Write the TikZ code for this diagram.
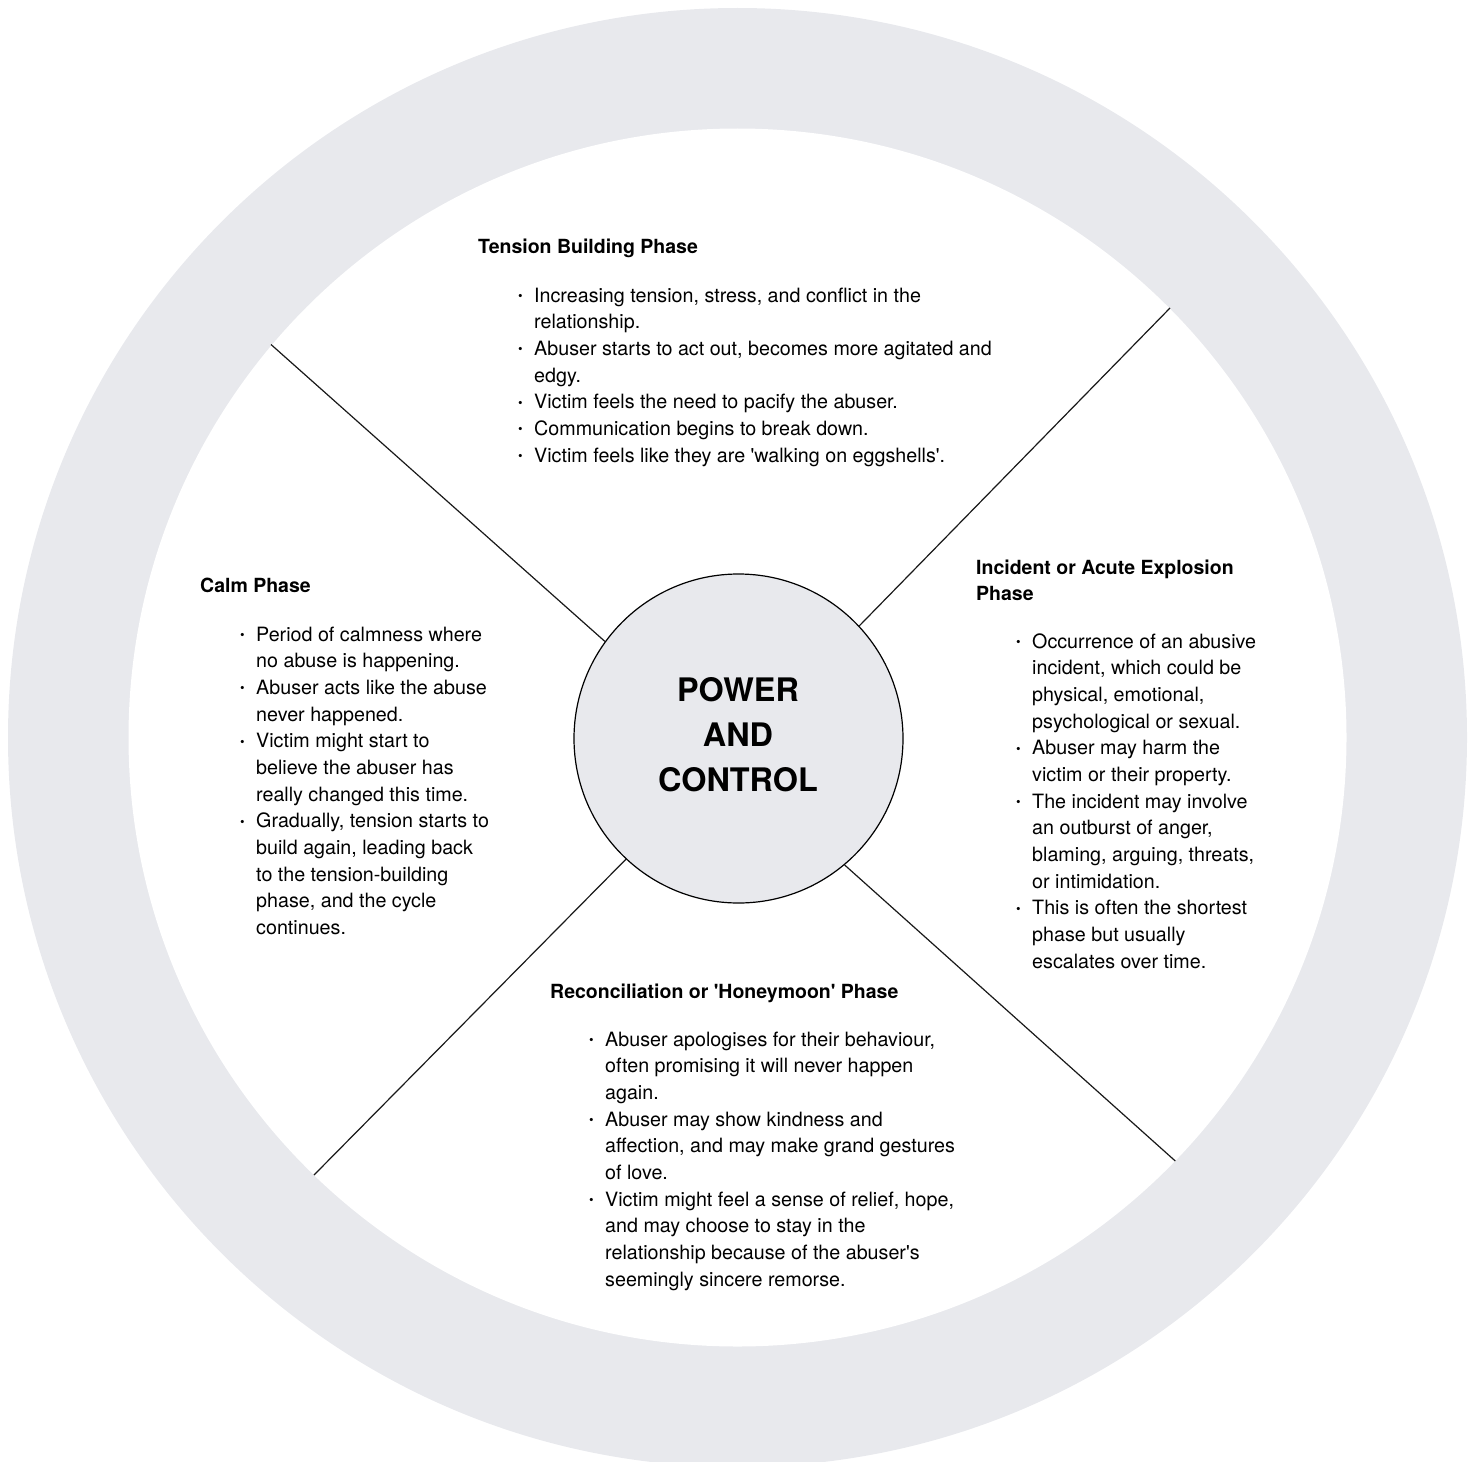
\documentclass[tikz,border=0pt]{standalone}
\usepackage{fontspec}
\setmainfont{TeX Gyre Heros}[Ligatures=TeXOff]
\definecolor{ringgrey}{RGB}{232,233,237}
\newcommand\bul{\llap{{\fontsize{13}{13}\selectfont\raisebox{1.4pt}{•}}\hspace{11.5pt}}}
\tikzset{
  bodytext/.style={anchor=base west, inner sep=0pt, text=black,
    font=\fontsize{19.7}{26.67}\selectfont},
  headtext/.style={anchor=base west, inner sep=0pt, text=black,
    font=\fontsize{19.5}{26.2}\selectfont\bfseries},
  spoke/.style={draw=black!90, line width=1.2pt},
}
\begin{document}
\begin{tikzpicture}[x=1pt,y=-1pt]
\useasboundingbox (0,0) rectangle (1477,1461);
\clip (0,0) rectangle (1477,1461);
% ring
\fill[ringgrey] (737.5,737.5) circle[radius=729.5];
\fill[white] (737.5,737.5) circle[radius=609];
% centre circle
\node[circle, draw=black, line width=1.2pt, fill=ringgrey, minimum size=329pt, inner sep=0pt] (pc) at (738.5,738.5) {};
% spoke ends on the ring
\coordinate (ul) at (271,344.5);
\coordinate (ur) at (1170,308);
\coordinate (ll) at (314,1175);
\coordinate (lr) at (1175.3,1161);
\draw[spoke] (ul) -- (pc.144.9);
\draw[spoke] (ur) -- (pc.43.5);
\draw[spoke] (ll) -- (pc.227.2);
\draw[spoke] (lr) -- (pc.310.8);
% centre label
\node[inner sep=0pt, align=center, font=\fontsize{32.4}{45}\selectfont\bfseries] (pclabel) at (738,735) {POWER\\AND\\CONTROL};
% Tension building
\node[headtext] (th) at (478,253) {Tension Building Phase};
\node[bodytext] (tb) at (534,302) {\begin{tabular}[t]{@{}l@{}}
\bul Increasing tension, stress, and conflict in the\\
relationship.\\
\bul Abuser starts to act out, becomes more agitated and\\
edgy.\\
\bul Victim feels the need to pacify the abuser.\\
\bul Communication begins to break down.\\
\bul Victim feels like they are 'walking on eggshells'.
\end{tabular}};
% Calm
\node[headtext] (ch) at (200,592) {Calm Phase};
\node[bodytext] (cb) at (256,641) {\begin{tabular}[t]{@{}l@{}}
\bul Period of calmness where\\
no abuse is happening.\\
\bul Abuser acts like the abuse\\
never happened.\\
\bul Victim might start to\\
believe the abuser has\\
really changed this time.\\
\bul Gradually, tension starts to\\
build again, leading back\\
to the tension-building\\
phase, and the cycle\\
continues.
\end{tabular}};
% Incident
\node[headtext] (ih) at (976,574) {\begin{tabular}[t]{@{}l@{}}
Incident or Acute Explosion\\
Phase
\end{tabular}};
\node[bodytext] (ib) at (1032,648) {\begin{tabular}[t]{@{}l@{}}
\bul Occurrence of an abusive\\
incident, which could be\\
physical, emotional,\\
psychological or sexual.\\
\bul Abuser may harm the\\
victim or their property.\\
\bul The incident may involve\\
an outburst of anger,\\
blaming, arguing, threats,\\
or intimidation.\\
\bul This is often the shortest\\
phase but usually\\
escalates over time.
\end{tabular}};
% Reconciliation
\node[headtext] (rh) at (550,998) {Reconciliation or 'Honeymoon' Phase};
\node[bodytext] (rb) at (605,1046) {\begin{tabular}[t]{@{}l@{}}
\bul Abuser apologises for their behaviour,\\
often promising it will never happen\\
again.\\
\bul Abuser may show kindness and\\
affection, and may make grand gestures\\
of love.\\
\bul Victim might feel a sense of relief, hope,\\
and may choose to stay in the\\
relationship because of the abuser's\\
seemingly sincere remorse.
\end{tabular}};
\end{tikzpicture}
\end{document}
